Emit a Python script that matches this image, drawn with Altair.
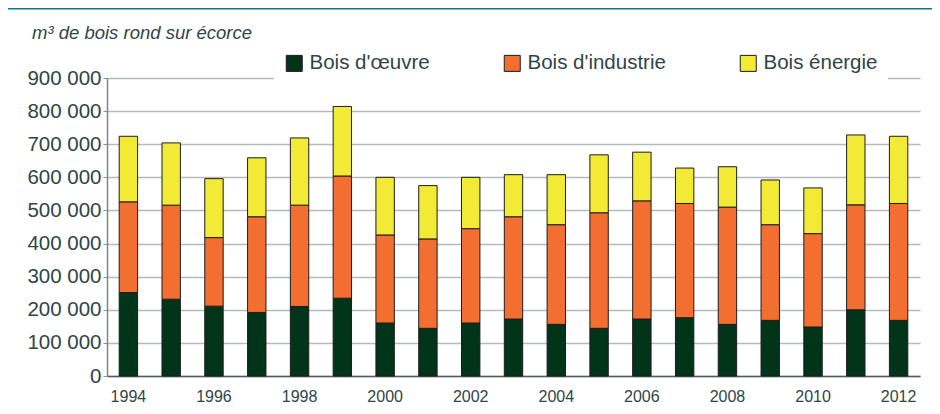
import altair as alt
import pandas as pd

years = [1994, 1995, 1996, 1997, 1998, 1999, 2000, 2001, 2002, 2003,
         2004, 2005, 2006, 2007, 2008, 2009, 2010, 2011, 2012]

bois_oeuvre = [252000, 232000, 211000, 192000, 210000, 235000, 160000, 144000, 160000, 172000,
               156000, 144000, 172000, 176000, 156000, 168000, 148000, 200000, 168000]
bois_industrie = [274000, 284000, 207000, 289000, 306000, 369000, 266000, 270000, 285000, 309000,
                  301000, 349000, 357000, 345000, 354000, 289000, 282000, 317000, 353000]
bois_energie = [198000, 188000, 178000, 178000, 203000, 210000, 174000, 161000, 155000, 127000,
                151000, 175000, 147000, 107000, 122000, 135000, 138000, 211000, 203000]

categories = ["Bois d'œuvre", "Bois d'industrie", "Bois énergie"]
colors = ["#02341a", "#f26f31", "#f3ea35"]
year_ticks = [1994, 1996, 1998, 2000, 2002, 2004, 2006, 2008, 2010, 2012]
y_ticks = [0, 100000, 200000, 300000, 400000, 500000, 600000, 700000, 800000, 900000]
title_text = "m³ de bois rond sur écorce"

rows = []
for series, (cat, vals) in enumerate(zip(categories, [bois_oeuvre, bois_industrie, bois_energie])):
    for yr, v in zip(years, vals):
        rows.append({"year": yr, "cat": cat, "value": v, "ord": series})
df = pd.DataFrame(rows)

FONT = "Liberation Sans"
TXT = "#2f4547"

bars = alt.Chart(df).mark_bar(stroke="#1c1c1c", strokeWidth=1).encode(
    x=alt.X("year:O",
            scale=alt.Scale(paddingInner=0.57, paddingOuter=0.285),
            axis=alt.Axis(values=year_ticks, labelAngle=0, title=None, grid=False, ticks=False,
                          domainColor="#555b5b", domainWidth=1.5, labelFontSize=16,
                          labelPadding=12, labelColor=TXT, labelFont=FONT)),
    y=alt.Y("value:Q", stack="zero",
            scale=alt.Scale(domain=[0, 900000], nice=False),
            axis=alt.Axis(values=y_ticks, title=None,
                          labelExpr="datum.value == 0 ? '0' : (datum.value / 1000) + ' 000'",
                          labelFontSize=20.5, labelColor=TXT, labelFont=FONT, labelPadding=2,
                          tickSize=4, tickColor="#8a8f8f", domainColor="#808585", domainWidth=1.5,
                          gridColor="#b5baba", gridWidth=1.5)),
    color=alt.Color("cat:N", sort=categories,
                    scale=alt.Scale(domain=categories, range=colors),
                    legend=alt.Legend(title=None, orient="none", legendX=167, legendY=-35,
                                      direction="horizontal", symbolType="square",
                                      symbolSize=256, symbolStrokeColor="#1c1c1c",
                                      symbolStrokeWidth=1, symbolOpacity=1,
                                      labelFontSize=20.5, labelColor=TXT, labelFont=FONT,
                                      columnPadding=72, labelOffset=5, fillColor="white",
                                      padding=10)),
    order=alt.Order("ord:Q"),
)

title_layer = alt.Chart(pd.DataFrame({"t": [title_text]})).mark_text(
    align="left", baseline="middle", fontStyle="italic", fontSize=18.5, font=FONT, color=TXT
).encode(text="t:N", x=alt.value(-75), y=alt.value(-45))

band = alt.Chart(pd.DataFrame({"t": [title_text]})).mark_rule(color="#007a8a", strokeWidth=3).encode(
    x=alt.value(-99), x2=alt.value(825), y=alt.value(-70)
)

chart = alt.layer(bars, title_layer, band).properties(
    width=813, height=298,
    padding={"left": 99, "top": 70, "right": 12, "bottom": 30},
    autosize="none",
    background="white",
).configure_view(stroke=None)

chart.save("out.html", embed_options={"renderer": "svg", "actions": False})
